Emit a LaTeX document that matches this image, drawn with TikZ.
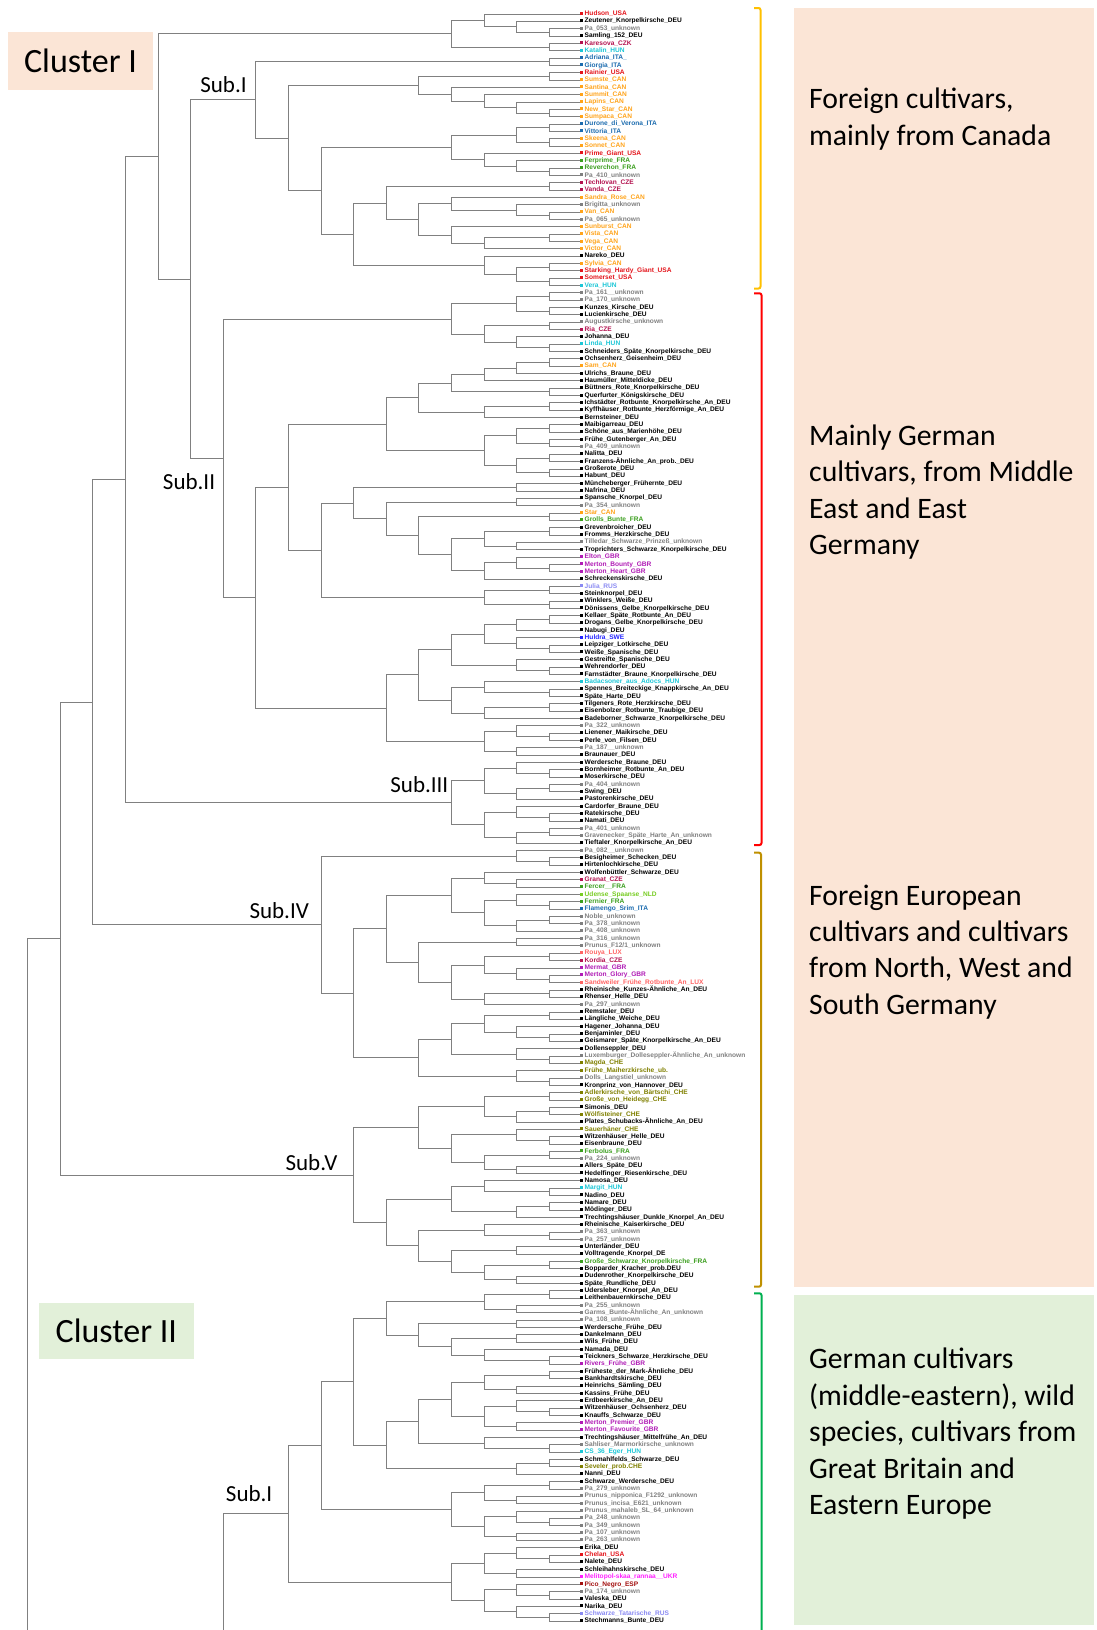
\documentclass[tikz,border=0pt]{standalone}
\usepackage{fontspec}
\newfontfamily\calib{Carlito}
\newfontfamily\leaffam{Liberation Sans}
\usepackage{tikz}
\usetikzlibrary{calc}
\usepackage{xcolor}
% country colours of the leaf labels
\definecolor{dd}{HTML}{000000}
\definecolor{un}{HTML}{7F7F7F}
\definecolor{us}{HTML}{E3141B}
\definecolor{cz}{HTML}{B3124F}
\definecolor{hu}{HTML}{1CC6D6}
\definecolor{it}{HTML}{1B6BAE}
\definecolor{ca}{HTML}{FFA31A}
\definecolor{fr}{HTML}{3B9E1E}
\definecolor{gb}{HTML}{B01CB5}
\definecolor{ru}{HTML}{8A8AF2}
\definecolor{se}{HTML}{2525FF}
\definecolor{nl}{HTML}{77CC22}
\definecolor{lu}{HTML}{FF6464}
\definecolor{ch}{HTML}{7F7F00}
\definecolor{ua}{HTML}{FF1FFF}
\definecolor{es}{HTML}{A3100F}
% boxes and brackets
\definecolor{peach}{HTML}{FBE5D6}
\definecolor{mint}{HTML}{E2F0D9}
\definecolor{brkorange}{HTML}{FFC000}
\definecolor{brkred}{HTML}{FF0000}
\definecolor{brkgold}{HTML}{BF9000}
\definecolor{brkgreen}{HTML}{00B050}
\tikzset{
  branch/.style={draw=black!50,line width=0.9pt},
  leaf/.style={anchor=west,inner sep=0pt,text height=4.6pt,text depth=1.3pt,font=\leaffam\bfseries\fontsize{6.6}{7}\selectfont},
  sublabel/.style={inner sep=0pt,font=\calib\fontsize{23}{27}\selectfont},
  clusterbox/.style={inner sep=0pt,font=\calib\fontsize{34}{40}\selectfont},
  groupbox/.style={draw=none,inner sep=0pt,anchor=north west},
  grouptext/.style={inner sep=0pt,anchor=north west,align=left,font=\calib\fontsize{29.7}{36.4}\selectfont},
  brace/.style={line width=2pt,rounded corners=2pt},
}
% one merge of the dendrogram: name, level, upper child, lower child
\newcommand{\clade}[4]{%
  \path ($(#3)!.5!(#4)$) coordinate (#1m);
  \coordinate (#1) at (#1m -| lv#2);
  \draw[branch] (#3) -| (#1) |- (#4);
}

\begin{document}
\catcode`\_=12
\begin{tikzpicture}[x=1pt,y=-1pt]
\useasboundingbox (0,0) rectangle (1096,1630);

% group boxes on the right
\node[groupbox,fill=peach,minimum width=300.7pt,minimum height=1279pt] (boxA) at (793.3,8) {};
\node[groupbox,fill=mint,minimum width=300.7pt,minimum height=330pt] (boxB) at (793.3,1295) {};
\node[grouptext] (txtA) at ([xshift=15.7pt,yshift=-80pt]boxA.north west) {Foreign cultivars,\\mainly from Canada};
\node[grouptext] (txtB) at ([xshift=15.7pt,yshift=-416.7pt]boxA.north west) {Mainly German\\cultivars, from Middle\\East and East\\Germany};
\node[grouptext] (txtC) at ([xshift=15.7pt,yshift=-876.4pt]boxA.north west) {Foreign European\\cultivars and cultivars\\from North, West and\\South Germany};
\node[grouptext] (txtD) at ([xshift=15.7pt,yshift=-53pt]boxB.north west) {German cultivars\\(middle-eastern), wild\\species, cultivars from\\Great Britain and\\Eastern Europe};

% cluster labels
\node[clusterbox,fill=peach,minimum width=145pt,minimum height=57.6pt] (clIlab) at (80.5,61.2) {Cluster I};
\node[clusterbox,fill=mint,minimum width=155pt,minimum height=56pt] (clIIlab) at (116.3,1331.2) {Cluster II};

% brackets
\draw[brace,draw=brkorange] (754,8) -- (760.5,8) -- (760.5,288.5) -- (754,288.5);
\draw[brace,draw=brkred] (754,293.3) -- (761.5,293.3) -- (761.5,845) -- (754,845);
\draw[brace,draw=brkgold] (754,852.7) -- (761,852.7) -- (761,1286.7) -- (754,1286.7);
\draw[brace,draw=brkgreen] (754,1293.3) -- (761.5,1293.3) -- (761.5,1630);

% levels of the tree
\foreach \k in {0,...,16}
  \coordinate (lv\k) at ({27.7+32.6*\k},0);
\coordinate (bottom) at (0,1630);

% leaves
\foreach \c/\n [count=\i] in {
us/Hudson_USA, dd/Zeutener_Knorpelkirsche_DEU, un/Pa_053_unknown, dd/Samling_152_DEU, cz/Karesova_CZK, hu/Katalin_HUN, it/Adriana_ITA_, it/Giorgia_ITA, us/Rainier_USA, ca/Sumste_CAN,
ca/Santina_CAN, ca/Summit_CAN, ca/Lapins_CAN, ca/New_Star_CAN, ca/Sumpaca_CAN, it/Durone_di_Verona_ITA, it/Vittoria_ITA, ca/Skeena_CAN, ca/Sonnet_CAN, us/Prime_Giant_USA,
fr/Ferprime_FRA, fr/Reverchon_FRA, un/Pa_410_unknown, cz/Techlovan_CZE, cz/Vanda_CZE, ca/Sandra_Rose_CAN, un/Brigitta_unknown, ca/Van_CAN, un/Pa_065_unknown, ca/Sunburst_CAN,
ca/Vista_CAN, ca/Vega_CAN, ca/Victor_CAN, dd/Nareko_DEU, ca/Sylvia_CAN, us/Starking_Hardy_Giant_USA, us/Somerset_USA, hu/Vera_HUN, un/Pa_161__unknown, un/Pa_170_unknown,
dd/Kunzes_Kirsche_DEU, dd/Lucienkirsche_DEU, un/Augustkirsche_unknown, cz/Ria_CZE, dd/Johanna_DEU, hu/Linda_HUN, dd/Schneiders_Späte_Knorpelkirsche_DEU, dd/Ochsenherz_Geisenheim_DEU, ca/Sam_CAN, dd/Ulrichs_Braune_DEU,
dd/Haumüller_Mitteldicke_DEU, dd/Büttners_Rote_Knorpelkirsche_DEU, dd/Querfurter_Königskirsche_DEU, dd/Ichstädter_Rotbunte_Knorpelkirsche_An_DEU, dd/Kyffhäuser_Rotbunte_Herzförmige_An_DEU, dd/Bernsteiner_DEU, dd/Maibigarreau_DEU, dd/Schöne_aus_Marienhöhe_DEU, dd/Frühe_Gutenberger_An_DEU, un/Pa_409_unknown,
dd/Nalitta_DEU, dd/Franzens-Ähnliche_An_prob._DEU, dd/Großerote_DEU, dd/Habunt_DEU, dd/Müncheberger_Frühernte_DEU, dd/Nafrina_DEU, dd/Spansche_Knorpel_DEU, un/Pa_354_unknown, ca/Star_CAN, fr/Grolls_Bunte_FRA,
dd/Grevenbroicher_DEU, dd/Fromms_Herzkirsche_DEU, un/Tilledar_Schwarze_Prinzeß_unknown, dd/Troprichters_Schwarze_Knorpelkirsche_DEU, gb/Elton_GBR, gb/Merton_Bounty_GBR, gb/Merton_Heart_GBR, dd/Schreckenskirsche_DEU, ru/Julia_RUS, dd/Steinknorpel_DEU,
dd/Winklers_Weiße_DEU, dd/Dönissens_Gelbe_Knorpelkirsche_DEU, dd/Kellaer_Späte_Rotbunte_An_DEU, dd/Drogans_Gelbe_Knorpelkirsche_DEU, dd/Nabugi_DEU, se/Huldra_SWE, dd/Leipziger_Lotkirsche_DEU, dd/Weiße_Spanische_DEU, dd/Gestreifte_Spanische_DEU, dd/Wehrendorfer_DEU,
dd/Farnstädter_Braune_Knorpelkirsche_DEU, hu/Badacsoner_aus_Adocs_HUN, dd/Spennes_Breiteckige_Knappkirsche_An_DEU, dd/Späte_Harte_DEU, dd/Tilgeners_Rote_Herzkirsche_DEU, dd/Eisenbolzer_Rotbunte_Traubige_DEU, dd/Badeborner_Schwarze_Knorpelkirsche_DEU, un/Pa_322_unknown, dd/Lienener_Maikirsche_DEU, dd/Perle_von_Filsen_DEU,
un/Pa_187__unknown, dd/Braunauer_DEU, dd/Werdersche_Braune_DEU, dd/Bornheimer_Rotbunte_An_DEU, dd/Moserkirsche_DEU, un/Pa_404_unknown, dd/Swing_DEU, dd/Pastorenkirsche_DEU, dd/Cardorfer_Braune_DEU, dd/Ratekirsche_DEU,
dd/Namati_DEU, un/Pa_401_unknown, un/Gravenecker_Späte_Harte_An_unknown, dd/Tieftaler_Knorpelkirsche_An_DEU, un/Pa_082__unknown, dd/Besigheimer_Schecken_DEU, dd/Hirtenlochkirsche_DEU, dd/Wolfenbüttler_Schwarze_DEU, cz/Granat_CZE, fr/Fercer__FRA,
nl/Udense_Spaanse_NLD, fr/Fernier_FRA, it/Flamengo_Srim_ITA, un/Noble_unknown, un/Pa_378_unknown, un/Pa_408_unknown, un/Pa_316_unknown, un/Prunus_F12\slash 1_unknown, lu/Rouya_LUX, cz/Kordia_CZE,
gb/Mermat_GBR, gb/Merton_Glory_GBR, lu/Sandweiler_Frühe_Rotbunte_An_LUX, dd/Rheinische_Kunzes-Ähnliche_An_DEU, dd/Rhenser_Helle_DEU, un/Pa_297_unknown, dd/Remstaler_DEU, dd/Längliche_Weiche_DEU, dd/Hagener_Johanna_DEU, dd/Benjaminler_DEU,
dd/Geismarer_Späte_Knorpelkirsche_An_DEU, dd/Dollenseppler_DEU, un/Luxemburger_Dolleseppler-Ähnliche_An_unknown, ch/Magda_CHE, ch/Frühe_Maiherzkirsche_ub., un/Dolls_Langstiel_unknown, dd/Kronprinz_von_Hannover_DEU, ch/Adlerkirsche_von_Bärtschi_CHE, ch/Große_von_Heidegg_CHE, dd/Simonis_DEU,
ch/Wölfisteiner_CHE, dd/Plates_Schubacks-Ähnliche_An_DEU, ch/Sauerhäner_CHE, dd/Witzenhäuser_Helle_DEU, dd/Eisenbraune_DEU, fr/Ferbolus_FRA, un/Pa_224_unknown, dd/Allers_Späte_DEU, dd/Hedelfinger_Riesenkirsche_DEU, dd/Namosa_DEU,
hu/Margit_HUN, dd/Nadino_DEU, dd/Namare_DEU, dd/Mödinger_DEU, dd/Trechtingshäuser_Dunkle_Knorpel_An_DEU, dd/Rheinische_Kaiserkirsche_DEU, un/Pa_363_unknown, un/Pa_257_unknown, dd/Unterländer_DEU, dd/Volltragende_Knorpel_DE,
fr/Große_Schwarze_Knorpelkirsche_FRA, dd/Bopparder_Kracher_prob.DEU, dd/Dudenrother_Knorpelkirsche_DEU, dd/Späte_Rundliche_DEU, dd/Udersleber_Knorpel_An_DEU, dd/Leithenbauernkirsche_DEU, un/Pa_255_unknown, un/Garms_Bunte-Ähnliche_An_unknown, un/Pa_108_unknown, dd/Werdersche_Frühe_DEU,
dd/Dankelmann_DEU, dd/Wils_Frühe_DEU, dd/Namada_DEU, dd/Teickners_Schwarze_Herzkirsche_DEU, gb/Rivers_Frühe_GBR, dd/Früheste_der_Mark-Ähnliche_DEU, dd/Bankhardtskirsche_DEU, dd/Heinrichs_Sämling_DEU, dd/Kassins_Frühe_DEU, dd/Erdbeerkirsche_An_DEU,
dd/Witzenhäuser_Ochsenherz_DEU, dd/Knauffs_Schwarze_DEU, gb/Merton_Premier_GBR, gb/Merton_Favourite_GBR, dd/Trechtingshäuser_Mittelfrühe_An_DEU, un/Sahliser_Marmorkirsche_unknown, hu/CS_36_Eger_HUN, dd/Schmahlfelds_Schwarze_DEU, ch/Seveler_prob.CHE, dd/Nanni_DEU,
dd/Schwarze_Werdersche_DEU, un/Pa_279_unknown, un/Prunus_nipponica_F1292_unknown, un/Prunus_incisa_E621_unknown, un/Prunus_mahaleb_SL_64_unknown, un/Pa_248_unknown, un/Pa_349_unknown, un/Pa_107_unknown, un/Pa_263_unknown, dd/Erika_DEU,
us/Chelan_USA, dd/Nalete_DEU, dd/Schleihahnskirsche_DEU, ua/Melitopol-skaa_rannaa__UKR, es/Pico_Negro_ESP, un/Pa_174_unknown, dd/Valeska_DEU, dd/Narika_DEU, ru/Schwarze_Tatarische_RUS, dd/Stechmanns_Bunte_DEU}
  \node[leaf,text=\c] (l\i) at (579.5,{14+7.338*(\i-1)}) {\rule[0.6pt]{3pt}{3pt}\hspace{2pt}\n};

% Cluster I, top group
\clade{a1}{16}{l3.west}{l4.west}
\clade{a2}{15}{l2.west}{a1}
\clade{a3}{14}{l1.west}{a2}
\clade{a4}{16}{l5.west}{l6.west}
\clade{hud}{13}{a3}{a4}

% Sub.I
\clade{b1}{16}{l7.west}{l8.west}
\clade{b2}{16}{l9.west}{l10.west}
\clade{b3}{16}{l14.west}{l15.west}
\clade{b4}{15}{l13.west}{b3}
\clade{b5}{14}{l12.west}{b4}
\clade{b6}{13}{l11.west}{b5}
\clade{b7}{12}{b2}{b6}
\clade{b8}{16}{l16.west}{l17.west}
\clade{b9}{16}{l18.west}{l19.west}
\clade{b10}{15}{b8}{b9}
\clade{b11}{16}{l22.west}{l23.west}
\clade{b12}{15}{l21.west}{b11}
\clade{b13}{14}{l20.west}{b12}
\clade{b14}{13}{b10}{b13}
\clade{b15}{16}{l24.west}{l25.west}
\clade{b16}{16}{l28.west}{l29.west}
\clade{b17}{15}{l27.west}{b16}
\clade{b18}{13}{l26.west}{b17}
\clade{b19}{16}{l31.west}{l32.west}
\clade{b20}{14}{b19}{l33.west}
\clade{b21}{13}{l30.west}{b20}
\clade{b22}{12}{b18}{b21}
\clade{b23}{11}{b15}{b22}
\clade{b24}{16}{l35.west}{l36.west}
\clade{b25}{16}{l37.west}{l38.west}
\clade{b26}{15}{b24}{b25}
\clade{b27}{14}{l34.west}{b26}
\clade{b28}{10}{b23}{b27}
\clade{b29}{9}{b14}{b28}
\clade{b30}{8}{b7}{b29}
\clade{subI}{7}{b1}{b30}

% Sub.II
\clade{c1}{16}{l39.west}{l40.west}
\clade{c2}{16}{l41.west}{l42.west}
\clade{c3}{15}{c1}{c2}
\clade{c4}{16}{l43.west}{l44.west}
\clade{c5}{16}{l46.west}{l47.west}
\clade{c6}{15}{l45.west}{c5}
\clade{c7}{14}{c4}{c6}
\clade{c8}{13}{c3}{c7}
\clade{d1}{16}{l48.west}{l49.west}
\clade{d2}{15}{d1}{l50.west}
\clade{d3}{14}{d2}{l51.west}
\clade{d4}{16}{l52.west}{l53.west}
\clade{d5}{13}{d3}{d4}
\clade{d6}{16}{l54.west}{l55.west}
\clade{d7}{14}{d6}{l56.west}
\clade{d8}{12}{d5}{d7}
\clade{d9}{16}{l57.west}{l58.west}
\clade{d10}{16}{l59.west}{l60.west}
\clade{d11}{15}{d9}{d10}
\clade{d12}{16}{l61.west}{l62.west}
\clade{d13}{16}{l63.west}{l64.west}
\clade{d14}{15}{d12}{d13}
\clade{d15}{14}{d11}{d14}
\clade{d16}{11}{d8}{d15}
\clade{e1}{15}{l65.west}{l66.west}
\clade{e2}{15}{l67.west}{l68.west}
\clade{e3}{16}{l69.west}{l70.west}
\clade{e4}{16}{l71.west}{l72.west}
\clade{e5}{15}{l73.west}{l74.west}
\clade{e6}{14}{e4}{e5}
\clade{e7}{16}{l76.west}{l77.west}
\clade{e8}{15}{l75.west}{e7}
\clade{e9}{14}{e8}{l78.west}
\clade{e10}{13}{e6}{e9}
\clade{e11}{12}{e3}{e10}
\clade{e12}{11}{e2}{e11}
\clade{e13}{10}{e1}{e12}
\clade{e14}{16}{l79.west}{l80.west}
\clade{e15}{16}{l81.west}{l82.west}
\clade{e16}{14}{e14}{e15}
\clade{e17}{9}{e13}{e16}
\clade{e18}{8}{d16}{e17}
\clade{f1}{16}{l83.west}{l84.west}
\clade{f2}{15}{f1}{l85.west}
\clade{f3}{16}{l87.west}{l88.west}
\clade{f4}{15}{l86.west}{f3}
\clade{f5}{14}{f2}{f4}
\clade{f6}{16}{l90.west}{l91.west}
\clade{f7}{15}{l89.west}{f6}
\clade{f8}{13}{f5}{f7}
\clade{f9}{16}{l93.west}{l94.west}
\clade{f10}{14}{l92.west}{f9}
\clade{f11}{16}{l95.west}{l96.west}
\clade{f12}{14}{f11}{l97.west}
\clade{f13}{13}{f10}{f12}
\clade{f14}{12}{f8}{f13}
\clade{f15}{16}{l99.west}{l100.west}
\clade{f16}{15}{l98.west}{f15}
\clade{f17}{15}{l101.west}{l102.west}
\clade{f18}{14}{f16}{f17}
\clade{f19}{11}{f14}{f18}
\clade{f20}{7}{e18}{f19}
\clade{subII}{6}{c8}{f20}

% Sub.III
\clade{g1}{16}{l104.west}{l105.west}
\clade{g2}{15}{l103.west}{g1}
\clade{g3}{16}{l106.west}{l107.west}
\clade{g4}{15}{g3}{l108.west}
\clade{g5}{14}{g2}{g4}
\clade{g6}{16}{l110.west}{l111.west}
\clade{g7}{15}{l109.west}{g6}
\clade{g8}{16}{l112.west}{l113.west}
\clade{g9}{15}{g8}{l114.west}
\clade{g10}{14}{g7}{g9}
\clade{subIII}{13}{g5}{g10}

\clade{h1}{5}{subI}{subII}
\clade{h2}{4}{hud}{h1}
\clade{h3}{3}{h2}{subIII}

% Sub.IV
\clade{i1}{16}{l116.west}{l117.west}
\clade{i2}{15}{l115.west}{i1}
\clade{i3}{15}{l119.west}{l120.west}
\clade{i4}{14}{l118.west}{i3}
\clade{i5}{16}{l122.west}{l123.west}
\clade{i6}{15}{l121.west}{i5}
\clade{i7}{16}{l124.west}{l125.west}
\clade{i8}{15}{i7}{l126.west}
\clade{i9}{14}{i6}{i8}
\clade{i10}{13}{i4}{i9}
\clade{i11}{15}{l127.west}{l128.west}
\clade{i12}{16}{l129.west}{l130.west}
\clade{i13}{16}{l132.west}{l133.west}
\clade{i14}{15}{l131.west}{i13}
\clade{i15}{14}{i12}{i14}
\clade{i16}{16}{l134.west}{l135.west}
\clade{i17}{14}{i16}{l136.west}
\clade{i18}{13}{i15}{i17}
\clade{i19}{12}{i11}{i18}
\clade{i20}{11}{i10}{i19}
\clade{i21}{16}{l137.west}{l138.west}
\clade{i22}{16}{l140.west}{l141.west}
\clade{i23}{15}{l139.west}{i22}
\clade{i24}{14}{i21}{i23}
\clade{i25}{16}{l143.west}{l144.west}
\clade{i26}{15}{l142.west}{i25}
\clade{i27}{13}{i24}{i26}
\clade{i28}{16}{l146.west}{l147.west}
\clade{i29}{15}{l145.west}{i28}
\clade{i30}{12}{i27}{i29}
\clade{i31}{10}{i20}{i30}
\clade{subIV}{9}{i2}{i31}

% Sub.V
\clade{j1}{16}{l148.west}{l149.west}
\clade{j2}{16}{l150.west}{l151.west}
\clade{j3}{15}{j2}{l152.west}
\clade{j4}{14}{j1}{j3}
\clade{j5}{16}{l154.west}{l155.west}
\clade{j6}{15}{l153.west}{j5}
\clade{j7}{16}{l156.west}{l157.west}
\clade{j8}{15}{l158.west}{l159.west}
\clade{j9}{14}{j7}{j8}
\clade{j10}{13}{j6}{j9}
\clade{j11}{12}{j4}{j10}
\clade{j12}{16}{l161.west}{l162.west}
\clade{j13}{14}{l160.west}{j12}
\clade{j14}{16}{l163.west}{l164.west}
\clade{j15}{15}{j14}{l165.west}
\clade{j16}{13}{j13}{j15}
\clade{j17}{16}{l167.west}{l168.west}
\clade{j18}{14}{l166.west}{j17}
\clade{j19}{15}{l169.west}{l170.west}
\clade{j20}{16}{l171.west}{l172.west}
\clade{j21}{15}{l173.west}{l174.west}
\clade{j22}{14}{j20}{j21}
\clade{j23}{13}{j19}{j22}
\clade{j24}{12}{j18}{j23}
\clade{j25}{11}{j16}{j24}
\clade{subV}{10}{j11}{j25}

\clade{h4}{2}{h3}{subIV}
\clade{clI}{1}{h4}{subV}
\draw[branch] (clI) -| (lv0 |- bottom);

% Cluster II, Sub.I
\clade{k1}{16}{l175.west}{l176.west}
\clade{k2}{15}{l177.west}{l178.west}
\clade{k3}{14}{k1}{k2}
\clade{k4}{15}{l179.west}{l180.west}
\clade{k5}{15}{l181.west}{l182.west}
\clade{k6}{16}{l184.west}{l185.west}
\clade{k7}{14}{l183.west}{k6}
\clade{k8}{13}{k5}{k7}
\clade{k9}{12}{k4}{k8}
\clade{k10}{11}{k3}{k9}
\clade{k11}{16}{l186.west}{l187.west}
\clade{k12}{15}{l188.west}{l189.west}
\clade{k13}{14}{k11}{k12}
\clade{k14}{16}{l191.west}{l192.west}
\clade{k15}{15}{l190.west}{k14}
\clade{k16}{15}{l193.west}{l194.west}
\clade{k17}{14}{k15}{k16}
\clade{k18}{13}{k13}{k17}
\clade{k19}{16}{l196.west}{l197.west}
\clade{k20}{14}{l195.west}{k19}
\clade{k21}{12}{k18}{k20}
\clade{k22}{16}{l198.west}{l199.west}
\clade{k23}{15}{k22}{l200.west}
\clade{k24}{11}{k21}{k23}
\clade{k25}{10}{k10}{k24}
\clade{k26}{16}{l201.west}{l202.west}
\clade{k27}{15}{l203.west}{l204.west}
\clade{k28}{14}{k26}{k27}
\clade{k29}{16}{l206.west}{l207.west}
\clade{k30}{15}{l205.west}{k29}
\clade{k31}{15}{l208.west}{l209.west}
\clade{k32}{14}{k30}{k31}
\clade{k33}{13}{k28}{k32}
\clade{k34}{9}{k25}{k33}
\clade{k35}{16}{l211.west}{l212.west}
\clade{k36}{15}{l210.west}{k35}
\clade{k37}{15}{l213.west}{l214.west}
\clade{k38}{14}{k36}{k37}
\clade{k39}{16}{l216.west}{l217.west}
\clade{k40}{15}{l215.west}{k39}
\clade{k41}{16}{l219.west}{l220.west}
\clade{k42}{15}{l218.west}{k41}
\clade{k43}{14}{k40}{k42}
\clade{k44}{13}{k38}{k43}
\clade{subIIb}{8}{k34}{k44}
\draw[branch] (subIIb) -| (lv6 |- bottom);

% subcluster labels
\node[sublabel,anchor=south east] (subIlab) at ([xshift=-9pt,yshift=7pt]subI) {Sub.I};
\node[sublabel,anchor=north east] (subIIlab) at ([xshift=-8pt,yshift=-15pt]subII) {Sub.II};
\node[sublabel,anchor=south east] (subIIIlab) at ([xshift=-3pt,yshift=10pt]subIII) {Sub.III};
\node[sublabel,anchor=south east] (subIVlab) at ([xshift=-12pt,yshift=6pt]subIV) {Sub.IV};
\node[sublabel,anchor=south east] (subVlab) at ([xshift=-16pt,yshift=4pt]subV) {Sub.V};
\node[sublabel,anchor=south east] (subIblab) at ([xshift=-16pt,yshift=12pt]subIIb) {Sub.I};

\end{tikzpicture}
\end{document}
